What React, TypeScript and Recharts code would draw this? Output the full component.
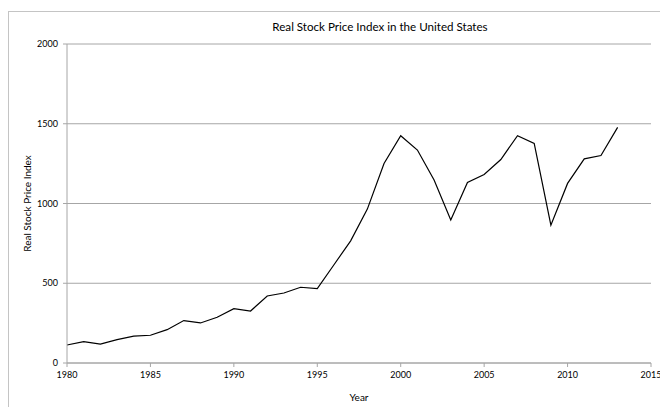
import React from "react";
import { LineChart, Line, XAxis, YAxis, CartesianGrid, Label } from "recharts";

const years = [
  1980, 1981, 1982, 1983, 1984, 1985, 1986, 1987, 1988, 1989,
  1990, 1991, 1992, 1993, 1994, 1995, 1996, 1997, 1998, 1999,
  2000, 2001, 2002, 2003, 2004, 2005, 2006, 2007, 2008, 2009,
  2010, 2011, 2012, 2013,
];
const priceIndex = [
  113, 134, 119, 147, 169, 174, 209, 266, 251, 287,
  341, 326, 420, 439, 475, 467, 616, 766, 965, 1251,
  1425, 1335, 1147, 896, 1132, 1182, 1276, 1425, 1377, 864,
  1126, 1280, 1301, 1477,
];
const xTicks = [1980, 1985, 1990, 1995, 2000, 2005, 2010, 2015];
const yTicks = [0, 500, 1000, 1500, 2000];
const title = "Real Stock Price Index in the United States";
const xLabel = "Year";
const yLabel = "Real Stock Price Index";

const data = years.map((y, i) => ({ year: y, value: priceIndex[i] }));

const FONT = "Lato, 'Open Sans', sans-serif";
const GRID = "#a6a6a6";

export default function App() {
  return (
    <div
      style={{
        position: "absolute",
        left: 0,
        top: 0,
        width: 660,
        height: 407,
        overflow: "hidden",
        background: "#fff",
      }}
    >
      <div
        style={{
          position: "absolute",
          left: 8,
          top: 11,
          width: 700,
          height: 500,
          border: "1px solid #c4c4c4",
        }}
      />
      <div
        style={{
          position: "absolute",
          left: 0,
          top: 20,
          width: 760,
          textAlign: "center",
          fontFamily: FONT,
          fontSize: 11.6,
          color: "#000",
          whiteSpace: "nowrap",
        }}
      >
        {title}
      </div>
      <div style={{ position: "absolute", left: 0, top: 0 }}>
        <LineChart
          width={660}
          height={407}
          data={data}
          margin={{ top: 44, right: 9, bottom: 14, left: 27 }}
        >
          <CartesianGrid
            vertical={false}
            stroke={GRID}
            strokeWidth={1}
          />
          <XAxis
            dataKey="year"
            type="number"
            domain={[1980, 2015]}
            ticks={xTicks}
            interval={0}
            height={30}
            stroke={GRID}
            tickSize={4}
            tickMargin={5}
            tick={{ fill: "#000", fontSize: 9, fontFamily: FONT }}
          >
            <Label
              value={xLabel}
              position="insideBottom"
              offset={-8}
              dx={0}
              style={{ fill: "#000", fontSize: 10, fontFamily: FONT }}
            />
          </XAxis>
          <YAxis
            type="number"
            domain={[0, 2000]}
            ticks={yTicks}
            interval={0}
            width={40}
            stroke={GRID}
            tickSize={4}
            tickMargin={5}
            tick={{ fill: "#000", fontSize: 9, fontFamily: FONT }}
          >
            <Label
              value={yLabel}
              angle={-90}
              position="insideLeft"
              offset={0}
              dx={0}
              style={{ fill: "#000", fontSize: 10, fontFamily: FONT, textAnchor: "middle" }}
            />
          </YAxis>
          <Line
            type="linear"
            dataKey="value"
            stroke="#000"
            strokeWidth={1.2}
            dot={false}
            isAnimationActive={false}
          />
        </LineChart>
      </div>
    </div>
  );
}
